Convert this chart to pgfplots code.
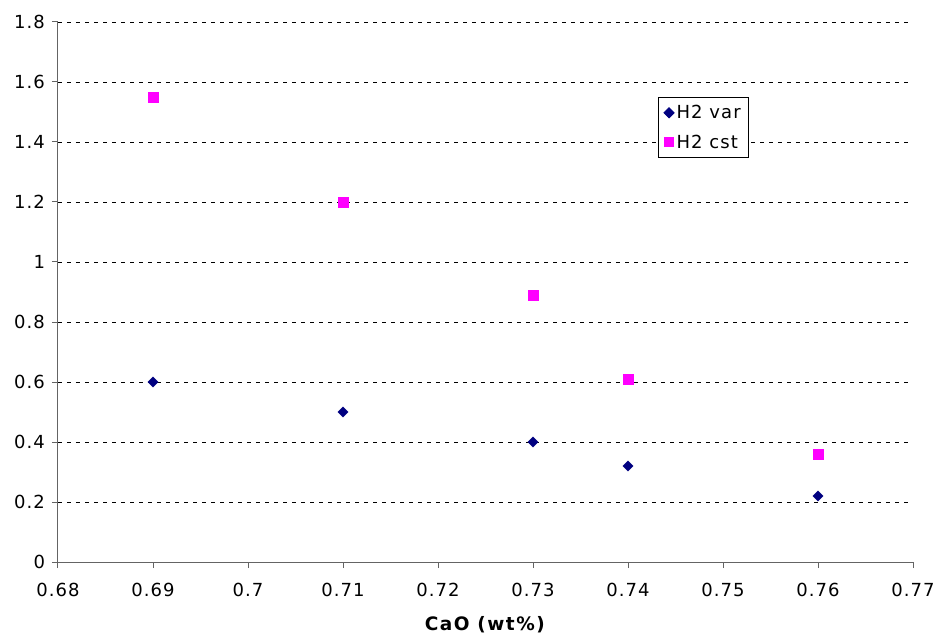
\documentclass[border=0pt]{standalone}
\usepackage{pgfplots}
\pgfplotsset{compat=1.18}
\usepackage{fontspec}
\setmainfont{DejaVu Sans}
\newfontfamily\tickfont{DejaVu Sans}[LetterSpace=6]
\newfontfamily\labfont{DejaVu Sans}[LetterSpace=8]
\definecolor{navy}{RGB}{0,0,128}
\definecolor{mag}{RGB}{255,0,255}
\definecolor{axgray}{RGB}{100,100,100}
\begin{document}
\begin{tikzpicture}
\path[use as bounding box] (-58pt,-73pt) rectangle (876pt,562pt);
\begin{axis}[
  scale only axis,
  width=855pt, height=540pt,
  xmin=0.68, xmax=0.77, ymin=0, ymax=1.8,
  xtick={0.68,0.69,0.70,0.71,0.72,0.73,0.74,0.75,0.76,0.77},
  ytick={0,0.2,0.4,0.6,0.8,1.0,1.2,1.4,1.6,1.8},
  axis x line*=bottom, axis y line*=left,
  axis line style={axgray, line width=1pt},
  tick style={axgray, line width=1pt},
  tick align=outside, major tick length=6pt,
  ymajorgrids,
  grid style={black, line width=0.8pt, dash pattern=on 4pt off 5pt},
  x tick label style={/pgf/number format/fixed, /pgf/number format/precision=2, /pgf/number format/assume math mode=true},
  y tick label style={/pgf/number format/fixed, /pgf/number format/precision=1, /pgf/number format/assume math mode=true},
  scaled x ticks=false, scaled y ticks=false,
  ticklabel style={font=\tickfont\fontsize{18}{21}\selectfont, text=black},
  xticklabel style={yshift=-11.5pt},
  yticklabel style={xshift=-3.5pt},
  xlabel={\textbf{CaO (wt\%)}},
  xlabel style={font=\labfont\fontsize{18.5}{22}\selectfont, at={(axis description cs:0.5,0)}, anchor=base, yshift=-68.7pt},
  legend style={at={(0.7018,0.8611)}, anchor=north west, draw=black, line width=0.8pt,
    fill=white, font=\tickfont\fontsize{18}{21}\selectfont, row sep=12.4pt,
    inner xsep=5.5pt, inner ysep=7pt, nodes={inner xsep=2.5pt, inner ysep=1pt}},
  legend cell align=left,
]
\addplot[only marks, mark=square*, mark options={rotate=45, fill=navy, draw=navy}, mark size=3.6pt]
  coordinates {(0.69,0.6) (0.71,0.5) (0.73,0.4) (0.74,0.32) (0.76,0.22)};
\addlegendentry{H2 var}
\addplot[only marks, mark=square*, mark options={fill=mag, draw=mag}, mark size=4.8pt]
  coordinates {(0.69,1.55) (0.71,1.2) (0.73,0.89) (0.74,0.61) (0.76,0.36)};
\addlegendentry{H2 cst}
\end{axis}
\end{tikzpicture}
\end{document}
